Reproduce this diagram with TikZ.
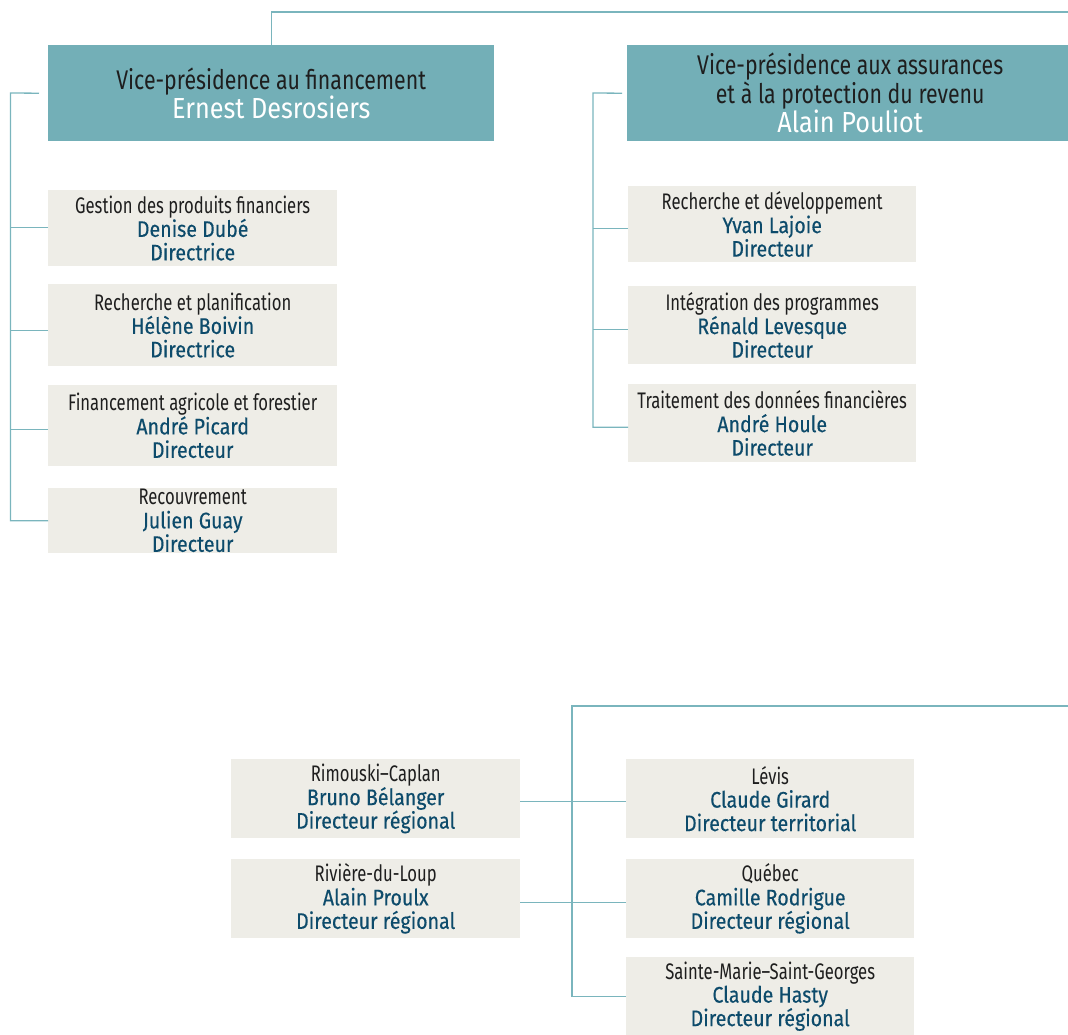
\documentclass[tikz,border=0pt]{standalone}
\usepackage{fontspec}
\setmainfont{Fira Sans}[FakeStretch=0.74]
\newfontfamily\namefont{Fira Sans}[FakeStretch=0.87,FakeBold=0.3]
\newfontfamily\titlefont{Fira Sans}[FakeStretch=0.79]
\newfontfamily\vpnamefont{Fira Sans}[FakeStretch=0.87]
\definecolor{tealfill}{HTML}{73AFB7}
\definecolor{tealline}{HTML}{7AB5BD}
\definecolor{boxfill}{HTML}{EEEDE7}
\definecolor{nameblue}{HTML}{0D4B6B}
\definecolor{textdark}{HTML}{1E1E1E}
\newcommand\pdesc[1]{{\color{textdark}#1}}
\newcommand\pname[1]{{\namefont\color{nameblue}#1}}
\newcommand\vpname[1]{{\vpnamefont\color{white}\fontsize{29}{29}\selectfont #1}}
\begin{document}
\begin{tikzpicture}[x=1pt,y=-1pt,
  vpbox/.style={fill=tealfill,anchor=north west,inner sep=0pt,minimum width=446pt,minimum height=96pt,align=center,text=textdark,font=\titlefont\fontsize{27}{29}\selectfont},
  sbox/.style={fill=boxfill,anchor=north west,inner sep=0pt,minimum width=289pt,align=center,font=\fontsize{22.5}{23.5}\selectfont},
  conn/.style={draw=tealline,line width=1.3pt}]
\useasboundingbox (0,0) rectangle (1068,1034);
\clip (0,0) rectangle (1068,1034);
% VP boxes
\node[vpbox] (vp1) at (48,45) {Vice-présidence au financement\\\vpname{Ernest Desrosiers}};
\node[vpbox] (vp2) at (627,45) {Vice-présidence aux assurances\\et à la protection du revenu\\\vpname{Alain Pouliot}};
% left column
\node[sbox,minimum height=76pt] (b1) at (48,190) {\pdesc{Gestion des produits financiers}\\\pname{Denise Dubé}\\\pname{Directrice}};
\node[sbox,minimum height=82pt] (b2) at (48,284) {\pdesc{Recherche et planification}\\\pname{Hélène Boivin}\\\pname{Directrice}};
\node[sbox,minimum height=81pt] (b3) at (48,385) {\pdesc{Financement agricole et forestier}\\\pname{André Picard}\\\pname{Directeur}};
\node[sbox,minimum height=65pt] (b4) at (48,488) {\pdesc{Recouvrement}\\\pname{Julien Guay}\\\pname{Directeur}};
% right column
\node[sbox,minimum width=288pt,minimum height=76pt] (r1) at (628,186) {\pdesc{Recherche et développement}\\\pname{Yvan Lajoie}\\\pname{Directeur}};
\node[sbox,minimum width=288pt,minimum height=78pt] (r2) at (628,286) {\pdesc{Intégration des programmes}\\\pname{Rénald Levesque}\\\pname{Directeur}};
\node[sbox,minimum width=288pt,minimum height=78pt] (r3) at (628,384) {\pdesc{Traitement des données financières}\\\pname{André Houle}\\\pname{Directeur}};
% bottom
\node[sbox,minimum height=79pt] (L1) at (231,759) {\pdesc{Rimouski–Caplan}\\\pname{Bruno Bélanger}\\\pname{Directeur régional}};
\node[sbox,minimum height=79pt] (L2) at (231,859) {\pdesc{Rivière-du-Loup}\\\pname{Alain Proulx}\\\pname{Directeur régional}};
\node[sbox,minimum width=288pt,minimum height=79pt] (R1) at (626,759) {\pdesc{Lévis}\\\pname{Claude Girard}\\\pname{Directeur territorial}};
\node[sbox,minimum width=288pt,minimum height=79pt] (R2) at (626,859) {\pdesc{Québec}\\\pname{Camille Rodrigue}\\\pname{Directeur régional}};
\node[sbox,minimum width=288pt,minimum height=78pt] (R3) at (626,957) {\pdesc{Sainte-Marie–Saint-Georges}\\\pname{Claude Hasty}\\\pname{Directeur régional}};
% connectors
\coordinate (topR) at (1072,12);
\draw[conn] (vp1.north) |- (topR);
\coordinate (ltrunk) at (10.5,93);
\draw[conn] ([xshift=-9pt]vp1.west) -- (ltrunk) |- (b4.west);
\foreach \b/\s in {b1/1,b2/-5,b3/-4} \draw[conn] ([yshift=\s pt]\b.west) -- ([yshift=\s pt]\b.west -| ltrunk);
\coordinate (rtrunk) at (593,93);
\draw[conn] ([xshift=-5pt]vp2.west) -- (rtrunk) |- ([yshift=-4pt]r3.west);
\foreach \b in {r1,r2} \draw[conn] ([yshift=-4pt]\b.west) -- ([yshift=-4pt]\b.west -| rtrunk);
\coordinate (btop) at (572,706);
\coordinate (bend) at (1072,706);
\draw[conn] (bend) -- (btop) |- (R3.west);
\draw[conn] ([yshift=-3pt]L1.east) -- ([yshift=-3pt]R1.west);
\draw[conn] ([yshift=-4pt]L2.east) -- ([yshift=-4pt]R2.west);
\end{tikzpicture}
\end{document}
